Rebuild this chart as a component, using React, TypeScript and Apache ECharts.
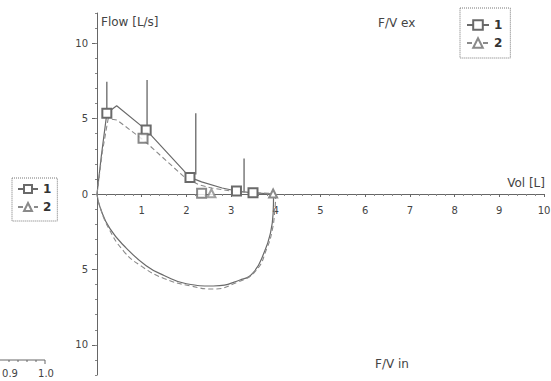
import React, { useEffect, useRef } from "react";
import * as echarts from "echarts";

// Expiratory limb, measurement 1 (solid, squares)
const exVol1 = [0, 0.1, 0.22, 0.44, 1.1, 2.08, 2.34, 2.8, 3.12, 3.49, 3.95];
const exFlow1 = [0, 2.6, 5.35, 5.85, 4.25, 1.1, 0.8, 0.4, 0.2, 0.08, 0];
const exMark1 = [false, false, true, false, true, true, false, false, true, true, false];
// Extra squares of measurement 1
const sqVol1 = [1.03, 2.34];
const sqFlow1 = [3.7, 0.05];

// Expiratory limb, measurement 2 (dashed, triangles)
const exVol2 = [0, 0.12, 0.25, 0.45, 1.05, 2.0, 2.3, 2.56, 3.0, 3.4, 3.94];
const exFlow2 = [0, 2.8, 5.0, 4.9, 3.55, 1.0, 0.6, 0.4, 0.2, 0.1, 0.03];
const exMark2 = [false, false, false, false, false, false, false, false, false, false, true];
const trVol2 = [2.56];
const trFlow2 = [0.05];

// Inspiratory limbs (plotted negative)
const inVol1 = [3.95, 3.94, 3.88, 3.75, 3.5, 3.2, 2.6, 2.0, 1.5, 1.1, 0.66, 0.29, 0.07, 0];
const inFlow1 = [0, -1.3, -2.6, -3.8, -5.2, -5.7, -6.1, -5.95, -5.4, -4.75, -3.6, -2.3, -0.9, 0];
const inVol2 = [4.0, 3.98, 3.92, 3.8, 3.55, 3.1, 2.6, 2.1, 1.5, 1.0, 0.6, 0.25, 0.05, 0];
const inFlow2 = [0, -1.0, -2.4, -3.6, -5.1, -5.9, -6.3, -6.1, -5.6, -4.8, -3.8, -2.2, -0.7, 0];

// Vertical reference bars
const barVol = [0.22, 1.12, 2.21, 3.29];
const barLow = [5.35, 4.1, 1.3, 0.15];
const barHigh = [7.45, 7.55, 5.35, 2.36];

const yLabelValues = [-10, -5, 0, 5, 10];
const legendNames = ["1", "2"];

const FONT = "DejaVu Sans";
const AXIS = "#666";
const TXT = "#444";

function lineData(vols: number[], flows: number[], marks?: boolean[]) {
  return vols.map((v, i) =>
    marks && marks[i] ? { value: [v, flows[i]] } : { value: [v, flows[i]], symbol: "none" }
  );
}

export default function App() {
  const ref = useRef<HTMLDivElement>(null);
  useEffect(() => {
    const chart = echarts.init(ref.current!, null, { renderer: "svg" });
    const s1Style = { color: "#6a6a6a", width: 1.2, type: "solid" as const };
    const s2Style = { color: "#8a8a8a", width: 1.1, type: [5, 3] as any };
    const option: any = {
      animation: false,
      backgroundColor: "#fff",
      grid: { left: 97, right: 7, top: 13, bottom: 6, containLabel: false, outerBoundsMode: "none" },
      xAxis: {
        type: "value",
        min: 0,
        max: 10,
        interval: 1,
        position: "bottom",
        offset: -181,
        axisLine: { show: true, onZero: false, lineStyle: { color: AXIS, width: 1 } },
        axisTick: { show: true, length: 3, lineStyle: { color: AXIS } },
        minorTick: { show: true, splitNumber: 5, length: 2, lineStyle: { color: "#888" } },
        axisLabel: { showMinLabel: false, margin: 11, color: TXT, fontSize: 10, fontFamily: FONT },
        splitLine: { show: false },
      },
      yAxis: [
        {
          type: "value",
          min: -12,
          max: 12,
          interval: 1,
          axisLine: { show: true, onZero: false, lineStyle: { color: AXIS, width: 1 } },
          axisTick: { show: true, length: 5, customValues: yLabelValues, lineStyle: { color: AXIS } },
          axisLabel: {
            customValues: yLabelValues,
            margin: 9,
            color: TXT,
            fontSize: 10,
            fontFamily: FONT,
            formatter: (v: number) => (v % 5 === 0 ? String(Math.abs(v)) : ""),
          },
          splitLine: { show: false },
        },
        {
          type: "value",
          min: -12,
          max: 12,
          interval: 1,
          position: "left",
          axisLine: { show: false, onZero: false },
          axisTick: { show: true, length: 2, lineStyle: { color: "#888" } },
          axisLabel: { show: false },
          splitLine: { show: false },
        },
      ],
      legend: [
        {
          data: legendNames,
          orient: "vertical",
          left: 460,
          top: 8,
          itemWidth: 22,
          itemHeight: 12,
          itemGap: 6,
          padding: [11, 8, 9, 6],
          borderColor: "#777",
          borderWidth: 1,
          borderType: "dotted",
          textStyle: { color: "#333", fontSize: 12, fontWeight: "bold", fontFamily: FONT },
        },
        {
          data: legendNames,
          orient: "vertical",
          left: 12,
          top: 178,
          itemWidth: 20,
          itemHeight: 10,
          itemGap: 6,
          padding: [5, 6, 8, 5],
          borderColor: "#777",
          borderWidth: 1,
          borderType: "dotted",
          textStyle: { color: "#333", fontSize: 12, fontWeight: "bold", fontFamily: FONT },
        },
      ],
      series: [
        {
          name: "1",
          type: "line",
          data: lineData(exVol1, exFlow1, exMark1),
          symbol: "emptyRect",
          symbolSize: 9,
          showAllSymbol: true,
          lineStyle: s1Style,
          itemStyle: { color: "#6a6a6a", borderWidth: 1.2 },
          z: 3,
        },
        {
          name: "2",
          type: "line",
          data: lineData(exVol2, exFlow2, exMark2),
          symbol: "emptyTriangle",
          symbolSize: 8,
          showAllSymbol: true,
          lineStyle: s2Style,
          itemStyle: { color: "#8a8a8a", borderWidth: 1.1 },
          z: 3,
        },
        {
          name: "1",
          type: "scatter",
          data: sqVol1.map((v, i) => [v, sqFlow1[i]]),
          symbol: "emptyRect",
          symbolSize: 9,
          itemStyle: { color: "#6a6a6a", borderWidth: 1.2 },
          z: 4,
        },
        {
          name: "2",
          type: "scatter",
          data: trVol2.map((v, i) => [v, trFlow2[i]]),
          symbol: "emptyTriangle",
          symbolSize: 8,
          itemStyle: { color: "#8a8a8a", borderWidth: 1.1 },
          z: 4,
        },
        {
          name: "1",
          type: "line",
          data: inVol1.map((v, i) => [v, inFlow1[i]]),
          symbol: "none",
          smooth: 0.5,
          lineStyle: s1Style,
          z: 3,
        },
        {
          name: "2",
          type: "line",
          data: inVol2.map((v, i) => [v, inFlow2[i]]),
          symbol: "none",
          smooth: 0.5,
          lineStyle: s2Style,
          z: 3,
        },
        {
          name: "ref",
          type: "custom",
          silent: true,
          encode: { x: 0, y: [1, 2] },
          data: barVol.map((v, i) => [v, barLow[i], barHigh[i]]),
          renderItem: (_p: any, api: any) => {
            const a = api.coord([api.value(0), api.value(1)]);
            const b = api.coord([api.value(0), api.value(2)]);
            return {
              type: "line",
              shape: { x1: a[0], y1: a[1], x2: b[0], y2: b[1] },
              style: { stroke: "#666", lineWidth: 1.3 },
            };
          },
          z: 2,
        },
      ],
      graphic: [
        { type: "text", x: 101, y: 22, style: { text: "Flow [L/s]", fill: TXT, fontSize: 12, fontFamily: FONT, textAlign: "left", textVerticalAlign: "middle" } },
        { type: "text", x: 378, y: 23, style: { text: "F/V ex", fill: TXT, fontSize: 12, fontFamily: FONT, textAlign: "left", textVerticalAlign: "middle" } },
        { type: "text", x: 545, y: 183, style: { text: "Vol [L]", fill: TXT, fontSize: 12, fontFamily: FONT, textAlign: "right", textVerticalAlign: "middle" } },
        { type: "text", x: 375, y: 364, style: { text: "F/V in", fill: TXT, fontSize: 12, fontFamily: FONT, textAlign: "left", textVerticalAlign: "middle" } },
        // fragment of neighbouring chart (bottom-left)
        { type: "line", shape: { x1: 0, y1: 360, x2: 45, y2: 360 }, style: { stroke: AXIS, lineWidth: 1 } },
        { type: "line", shape: { x1: 45, y1: 360, x2: 45, y2: 364 }, style: { stroke: AXIS, lineWidth: 1 } },
        { type: "line", shape: { x1: 9, y1: 360, x2: 9, y2: 362 }, style: { stroke: AXIS, lineWidth: 1 } },
        { type: "line", shape: { x1: 18, y1: 360, x2: 18, y2: 362 }, style: { stroke: AXIS, lineWidth: 1 } },
        { type: "line", shape: { x1: 27, y1: 360, x2: 27, y2: 362 }, style: { stroke: AXIS, lineWidth: 1 } },
        { type: "line", shape: { x1: 36, y1: 360, x2: 36, y2: 362 }, style: { stroke: AXIS, lineWidth: 1 } },
        { type: "text", x: 10, y: 373, style: { text: "0.9", fill: TXT, fontSize: 10, fontFamily: FONT, textAlign: "center", textVerticalAlign: "middle" } },
        { type: "text", x: 46, y: 373, style: { text: "1.0", fill: TXT, fontSize: 10, fontFamily: FONT, textAlign: "center", textVerticalAlign: "middle" } },
      ],
    };
    chart.setOption(option);
    return () => chart.dispose();
  }, []);
  return <div ref={ref} style={{ width: 551, height: 381, position: "absolute", left: 0, top: 0 }} />;
}
